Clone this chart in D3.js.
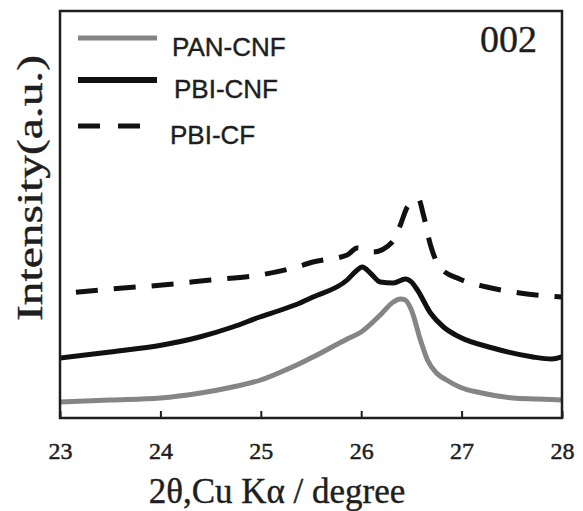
<!DOCTYPE html>
<html>
<head>
<meta charset="utf-8">
<script src="https://cdn.jsdelivr.net/npm/d3@7"></script>
<style>
  html, body { margin: 0; padding: 0; background: #fff; }
  svg { display: block; }
  .serif { font-family: "Liberation Serif", "Times New Roman", Times, serif; }
  .sans { font-family: "Liberation Sans", Arial, Helvetica, sans-serif; }
</style>
</head>
<body>
<div id="chart"></div>
<script>
// 2θ (degree) and relative intensity (a.u.)
const panX = [23.0, 23.5, 24.0, 24.4, 24.72, 25.0, 25.2, 25.4, 25.52, 25.86, 26.0, 26.19, 26.32, 26.39, 26.44, 26.5, 26.59, 26.66, 26.75, 26.85, 26.98, 27.2, 27.51, 27.75, 28.0];
const panY = [16, 18, 20, 25, 31, 38, 46, 55, 61, 79, 86, 103, 116, 119, 118, 108, 78, 58, 45, 38, 31, 25, 20, 19, 18];

const pbiCnfX = [23.0, 23.5, 24.02, 24.39, 24.72, 24.99, 25.2, 25.39, 25.52, 25.86, 25.95, 26.01, 26.1, 26.19, 26.32, 26.44, 26.5, 26.56, 26.69, 26.82, 26.98, 27.31, 27.71, 27.9, 28.0];
const pbiCnfY = [60, 66, 73, 81, 91, 101, 108, 115, 121, 138, 147, 151, 144, 136, 135, 139, 136, 128, 105, 91, 81, 70, 61, 59, 61];

const pbiCfX = [23.0, 23.5, 24.02, 24.5, 24.99, 25.32, 25.52, 25.86, 25.96, 26.12, 26.31, 26.39, 26.46, 26.57, 26.62, 26.69, 26.79, 26.98, 27.25, 27.58, 28.0];
const pbiCfY = [124, 129, 133, 138, 143, 150, 156, 163, 170, 166, 176, 193, 211, 219, 203, 173, 150, 139, 131, 125, 121];

const seriesNames = ['PAN-CNF', 'PBI-CNF', 'PBI-CF'];
const xTicks = [23, 24, 25, 26, 27, 28];

const W = 583, H = 511;
const plotL = 60, plotR = 562, plotT = 11, plotB = 418;
const ink = '#1e1e1e';

const svg = d3.select('#chart').append('svg')
  .attr('width', W).attr('height', H);

const x = d3.scaleLinear().domain([23, 28]).range([plotL, plotR]);
const y = d3.scaleLinear().domain([0, 407]).range([plotB, plotT]);

const line = d3.line()
  .x(d => x(d[0]))
  .y(d => y(d[1]))
  .curve(d3.curveMonotoneX);

const series = [
  { name: seriesNames[0], pts: d3.zip(panX, panY), color: '#858585', width: 5, dash: null },
  { name: seriesNames[1], pts: d3.zip(pbiCnfX, pbiCnfY), color: '#111', width: 5, dash: null },
  { name: seriesNames[2], pts: d3.zip(pbiCfX, pbiCfY), color: '#111', width: 5, dash: '22,16' }
];

svg.append('clipPath').attr('id', 'plot-clip')
  .append('rect')
  .attr('x', plotL).attr('y', plotT)
  .attr('width', plotR - plotL).attr('height', plotB - plotT);

svg.append('g').attr('clip-path', 'url(#plot-clip)')
  .selectAll('path')
  .data(series)
  .join('path')
  .attr('d', d => line(d.pts))
  .attr('fill', 'none')
  .attr('stroke', d => d.color)
  .attr('stroke-width', d => d.width)
  .attr('stroke-linejoin', 'round')
  .attr('stroke-dasharray', d => d.dash)
  .attr('stroke-dashoffset', d => d.dash ? 22 : null);

// frame
svg.append('rect')
  .attr('x', plotL).attr('y', plotT)
  .attr('width', plotR - plotL).attr('height', plotB - plotT)
  .attr('fill', 'none')
  .attr('stroke', ink)
  .attr('stroke-width', 2.5);

// bottom axis, inward ticks
const xAxis = d3.axisBottom(x)
  .tickValues(xTicks)
  .tickFormat(d3.format('d'))
  .tickSizeInner(-7)
  .tickSizeOuter(0)
  .tickPadding(24);

const gx = svg.append('g')
  .attr('transform', `translate(0,${plotB})`)
  .call(xAxis)
  .attr('font-family', null)
  .attr('font-size', null);
gx.select('.domain').remove();
gx.selectAll('line').attr('stroke', ink).attr('stroke-width', 2);
gx.selectAll('text')
  .attr('class', 'serif')
  .style('font-size', '24px')
  .attr('fill', ink)
  .attr('stroke', ink)
  .attr('stroke-width', 0.5);

// axis titles
svg.append('text')
  .attr('class', 'serif')
  .attr('x', 277)
  .attr('y', 503)
  .attr('text-anchor', 'middle')
  .style('font-size', '35px')
  .attr('fill', ink)
  .attr('stroke', ink)
  .attr('stroke-width', 0.4)
  .text('2θ,Cu Kα / degree');

svg.append('text')
  .attr('class', 'serif')
  .attr('transform', 'translate(42,188) rotate(-90)')
  .attr('text-anchor', 'middle')
  .style('font-size', '35px')
  .attr('textLength', 266)
  .attr('lengthAdjust', 'spacingAndGlyphs')
  .attr('fill', ink)
  .attr('stroke', ink)
  .attr('stroke-width', 0.4)
  .text('Intensity(a.u.)');

// peak label
svg.append('text')
  .attr('class', 'serif')
  .attr('x', 537).attr('y', 52)
  .attr('text-anchor', 'end')
  .style('font-size', '38px')
  .attr('fill', ink)
  .attr('stroke', ink)
  .attr('stroke-width', 0.4)
  .text('002');

// legend
const legendY = [38, 80, 126];
const legend = svg.append('g');
series.forEach((s, i) => {
  legend.append('line')
    .attr('x1', 78).attr('x2', 157)
    .attr('y1', legendY[i]).attr('y2', legendY[i])
    .attr('stroke', s.color)
    .attr('stroke-width', i === 1 ? 6 : 5)
    .attr('stroke-dasharray', s.dash ? '22,18' : null);
  legend.append('text')
    .attr('class', 'sans')
    .attr('x', [172, 174, 170][i])
    .attr('y', legendY[i] + 9)
    .attr('dy', '0.35em')
    .style('font-size', '26px')
    .attr('fill', ink)
    .attr('stroke', ink)
    .attr('stroke-width', 0.4)
    .text(s.name);
});
</script>
</body>
</html>
